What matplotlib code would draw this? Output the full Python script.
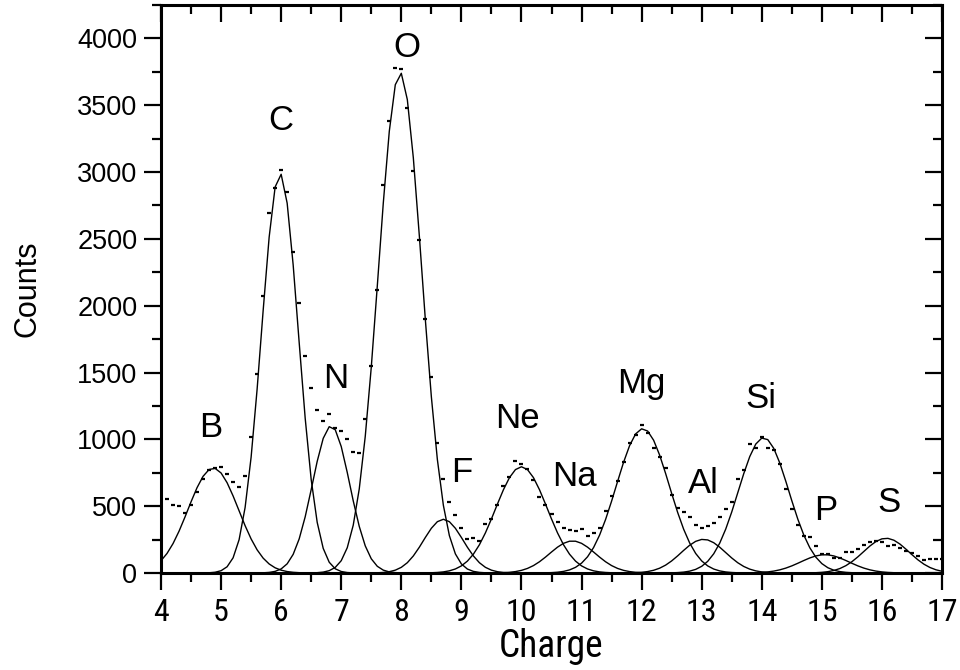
import matplotlib
matplotlib.use('Agg')
import matplotlib.pyplot as plt
from matplotlib.ticker import MultipleLocator
import numpy as np

# measured spectrum, one value every 0.1 in charge from 4.0 to 17.0
charge = np.round(np.arange(40, 171) * 0.1, 1)
counts = [600, 556, 511, 504, 451, 506, 603, 700, 768, 785,
          793, 742, 683, 641, 725, 1015, 1488, 2073, 2697, 2881,
          3018, 2849, 2400, 2019, 1622, 1381, 1219, 1136, 1192, 1082,
          1064, 1000, 902, 900, 1149, 1548, 2116, 2901, 3380, 3778,
          3768, 3479, 3006, 2495, 1904, 1465, 970, 703, 533, 434,
          334, 252, 263, 236, 366, 401, 506, 650, 720, 835,
          813, 775, 695, 566, 508, 439, 384, 339, 321, 316,
          327, 277, 299, 334, 466, 576, 690, 832, 974, 1032,
          1110, 1044, 932, 870, 783, 583, 488, 458, 421, 359,
          334, 351, 376, 421, 476, 529, 703, 770, 968, 935,
          1019, 932, 918, 818, 628, 481, 356, 278, 271, 204,
          145, 144, 112, 113, 159, 157, 178, 207, 231, 240,
          235, 203, 211, 185, 161, 153, 125, 100, 102, 108,
          105]

# gaussian fit for each element: amplitude, centre, sigma
elements = ['B', 'C', 'N', 'O', 'F', 'Ne', 'Na', 'Mg', 'Al', 'Si', 'P', 'S']
amp = [785, 2990, 1100, 3745, 402, 795, 240, 1080, 252, 1012, 137, 260]
centre = [4.87, 5.98, 6.83, 7.98, 8.70, 10.0, 10.85, 12.02, 13.03, 14.03, 15.05, 16.07]
sigma = [0.42, 0.305, 0.31, 0.36, 0.33, 0.43, 0.38, 0.44, 0.37, 0.42, 0.40, 0.38]

# label positions (charge, counts)
lab_x = [4.83, 6.0, 6.91, 8.09, 9.01, 9.94, 10.89, 11.99, 13.02, 13.99, 15.07, 16.12]
lab_y = [1092, 3387, 1458, 3933, 755, 1159, 725, 1421, 673, 1308, 464, 531]

plt.rcParams['font.family'] = ['Liberation Sans', 'DejaVu Sans']
narrow = ['Roboto Condensed', 'Liberation Sans', 'DejaVu Sans']

fig = plt.figure(figsize=(9.6, 6.7), dpi=100)
ax = fig.add_axes([161/960, 1-573/670, (942-161)/960, (573-5)/670])

for a, c, s in zip(amp, centre, sigma):
    ax.plot(charge, a * np.exp(-(charge - c)**2 / (2 * s**2)), color='black', lw=1.0)

ax.plot(charge, counts, ls='none', marker='_', ms=3.5, mew=1.6, color='black')

for name, x, y in zip(elements, lab_x, lab_y):
    ax.text(x, y, name, fontsize=25, ha='center', va='center')

ax.set_xlim(4, 17)
ax.set_ylim(0, 4250)
ax.xaxis.set_major_locator(MultipleLocator(1))
ax.xaxis.set_minor_locator(MultipleLocator(0.5))
ax.yaxis.set_major_locator(MultipleLocator(500))
ax.yaxis.set_minor_locator(MultipleLocator(250))

for sp in ax.spines.values():
    sp.set_linewidth(2.2)

ax.tick_params(which='both', width=1.6)
ax.tick_params(which='major', length=12)
ax.tick_params(which='minor', length=6.5)
ax.tick_params(axis='x', which='both', direction='out', top=True, bottom=True, pad=6)
ax.tick_params(axis='y', which='both', direction='out', right=True, left=True, pad=5)
ax.tick_params(axis='y', labelsize=19.5)
ax.tick_params(axis='x', labelsize=23)
# top and right ticks point inward
for t in ax.xaxis.get_major_ticks() + ax.xaxis.get_minor_ticks():
    t.tick2line.set_marker(3)
for t in ax.yaxis.get_major_ticks() + ax.yaxis.get_minor_ticks():
    t.tick2line.set_marker(0)

for lab in ax.get_xticklabels():
    lab.set_family(narrow)

ax.set_xlabel('Charge', fontsize=27, family=narrow, labelpad=1)
ax.set_ylabel('Counts', fontsize=22, labelpad=25)

fig.savefig('out.png', dpi=100)
